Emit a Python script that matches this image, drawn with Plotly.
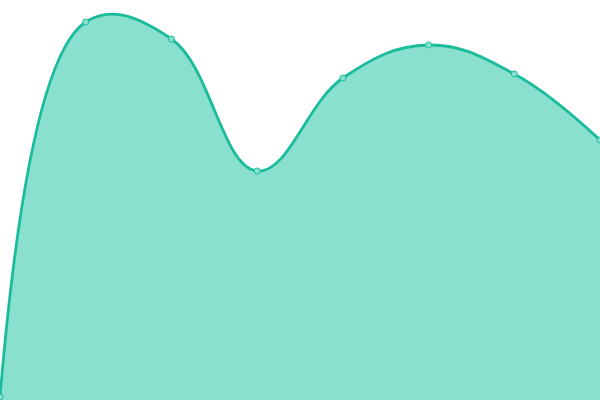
import plotly.graph_objects as go

x_vals = [0, 1, 2, 3, 4, 5, 6, 7]
y_vals = [3, 378, 361, 229, 322, 355, 326, 260]


def main():
    fig = go.Figure(go.Scatter(
        x=x_vals,
        y=y_vals,
        mode="lines+markers",
        line=dict(color="#1abc9c", width=2.8, shape="spline", smoothing=1.15),
        marker=dict(size=6, color="#89e0cf", line=dict(color="#1abc9c", width=1)),
        fill="tozeroy",
        fillcolor="#89e0cf",
        cliponaxis=False,
        hoverinfo="skip",
    ))
    fig.update_layout(
        width=600, height=400,
        margin=dict(l=0, r=0, t=0, b=0),
        paper_bgcolor="white", plot_bgcolor="white",
        showlegend=False,
        xaxis=dict(visible=False, range=[0, 7]),
        yaxis=dict(visible=False, range=[0, 400]),
    )
    fig.write_html("out.html", config={"displayModeBar": False},
                   post_script="document.body.style.margin='0';")


if __name__ == "__main__":
    main()
